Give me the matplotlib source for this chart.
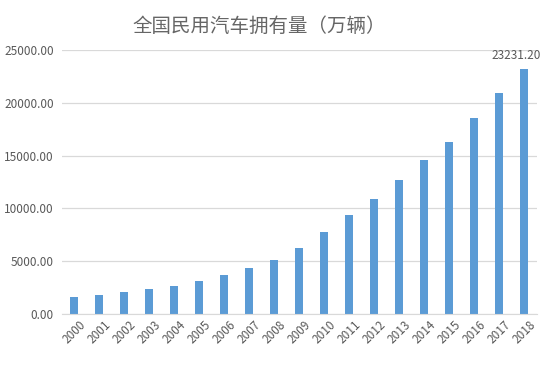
import matplotlib
matplotlib.use("Agg")
import matplotlib.pyplot as plt
from matplotlib.ticker import FuncFormatter

plt.rcParams['font.family'] = ['Noto Sans CJK SC', 'DejaVu Sans']

# data (万辆)
years = ['2000', '2001', '2002', '2003', '2004', '2005', '2006', '2007', '2008', '2009',
         '2010', '2011', '2012', '2013', '2014', '2015', '2016', '2017', '2018']
cars = [1608.91, 1802.04, 2053.17, 2382.93, 2693.71, 3159.66, 3697.35, 4358.36, 5099.61, 6280.61,
        7801.83, 9356.32, 10933.09, 12670.14, 14598.11, 16284.45, 18574.54, 20906.67, 23231.20]
yticks = [0, 5000, 10000, 15000, 20000, 25000]

grey = '#595959'

fig = plt.figure(figsize=(5.5, 3.71), dpi=100)
ax = fig.add_axes([0.1127, 0.1536, 0.8636, 0.7114])

x = range(len(years))
ax.bar(x, cars, width=0.32, color='#5b9bd5', zorder=2)

ax.set_xlim(-0.5, len(years) - 0.5)
ax.set_ylim(0, 25000)
ax.set_yticks(yticks)
ax.yaxis.set_major_formatter(FuncFormatter(lambda v, p: f'{v:.2f}'))
ax.set_xticks(list(x))
ax.set_xticklabels(years, rotation=45, ha='center')

ax.grid(axis='y', color='#d9d9d9', linewidth=0.9, zorder=0)
for s in ['top', 'right', 'left']:
    ax.spines[s].set_visible(False)
ax.spines['bottom'].set_color('#d9d9d9')
ax.tick_params(axis='both', length=0, colors=grey)
ax.tick_params(axis='y', pad=6, labelsize=8.5)
ax.tick_params(axis='x', pad=3, labelsize=8.5)

# label on the last bar
ax.annotate(f'{cars[-1]:.2f}', xy=(len(years) - 1, cars[-1]), xytext=(-6, 5),
            textcoords='offset points', ha='center', va='bottom', fontsize=8.5, color=grey)

fig.text(0.472, 0.93, '全国民用汽车拥有量（万辆）', ha='center', va='center',
         fontsize=14, color='#666666')

fig.savefig('out.png', dpi=100, facecolor='white')
